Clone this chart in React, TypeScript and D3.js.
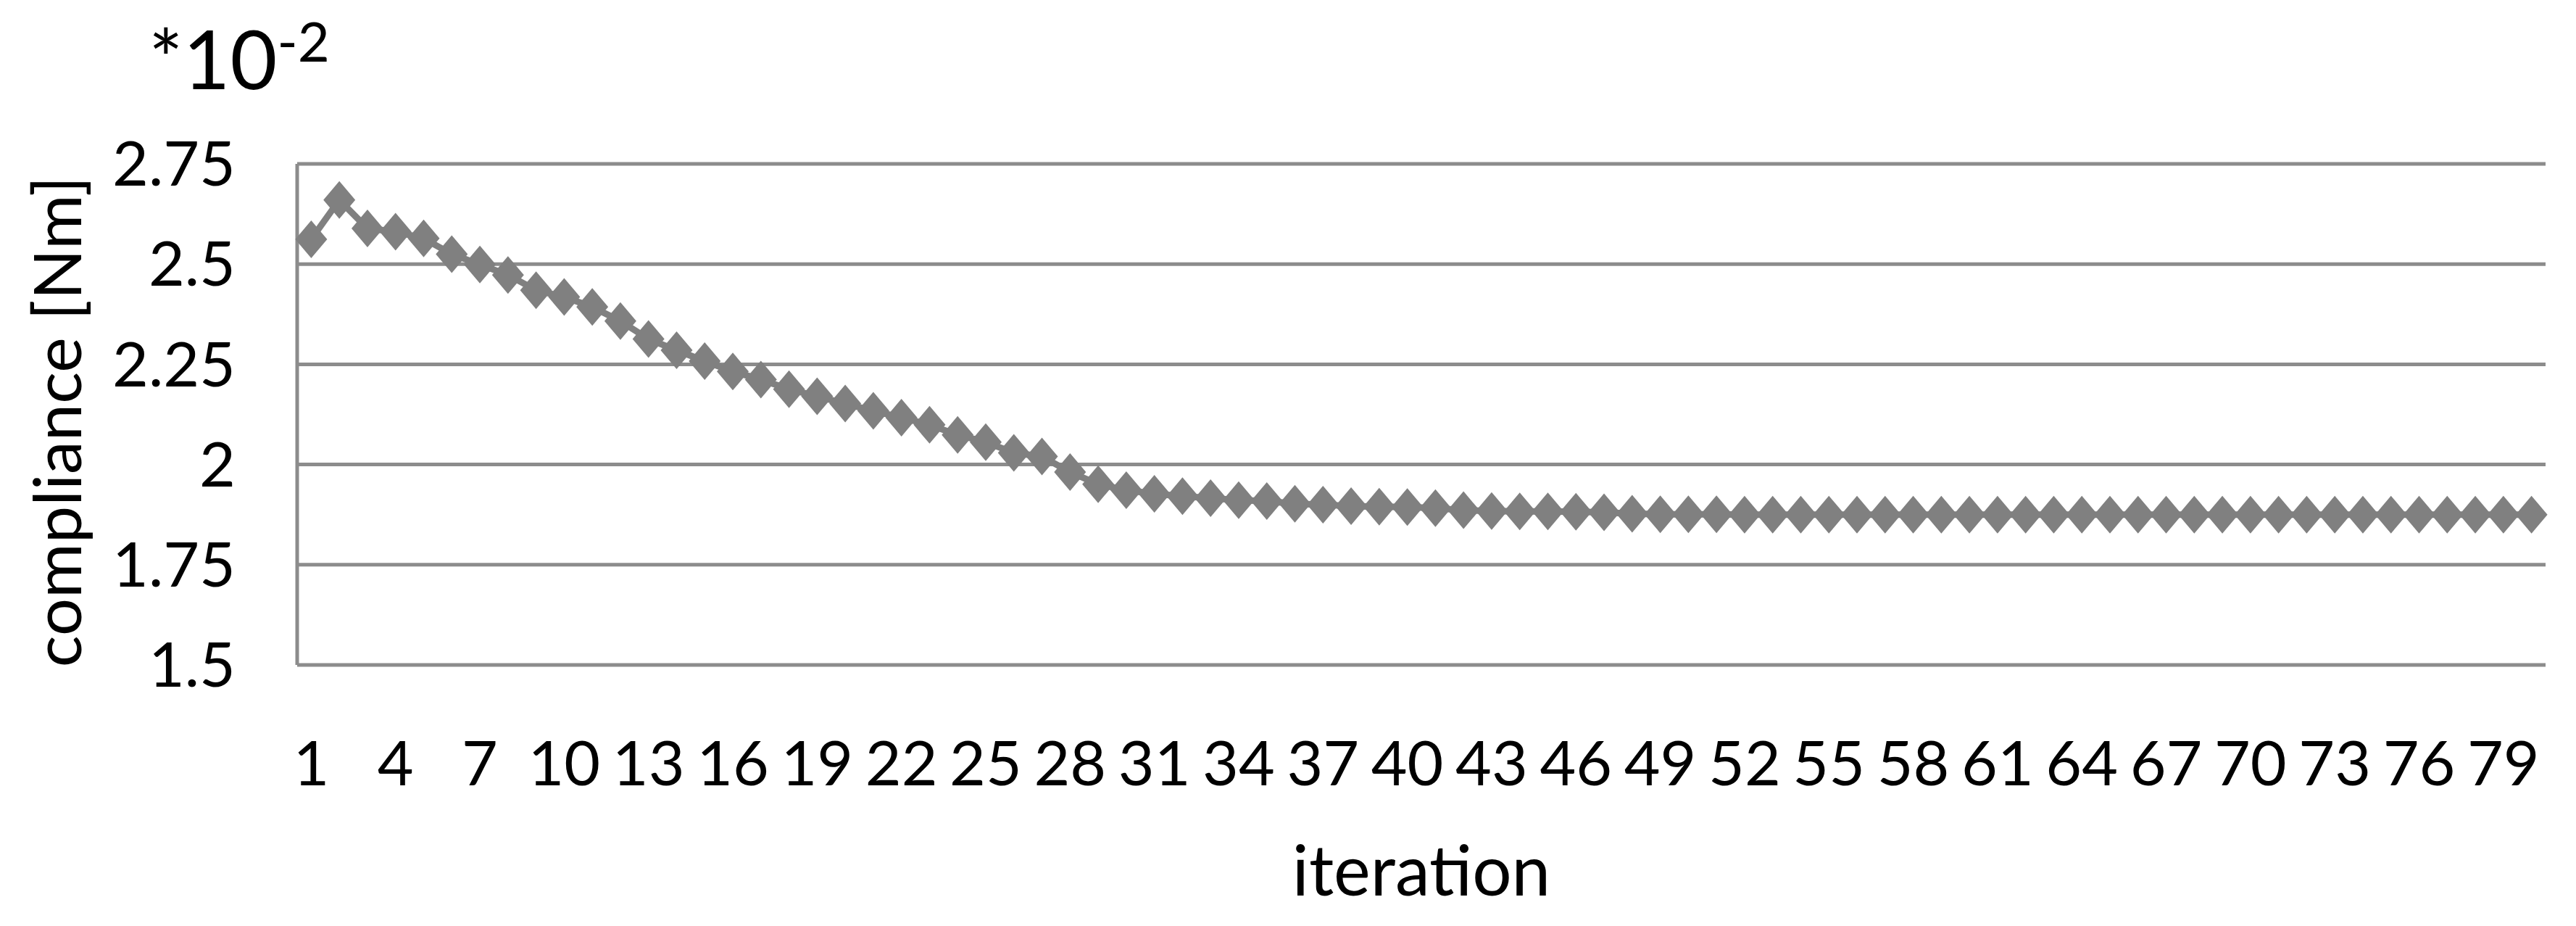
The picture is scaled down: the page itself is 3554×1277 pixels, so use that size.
import React from "react";
import * as d3 from "d3";

// compliance values, unit 1e-2 Nm, one per iteration
const compliance = [
  2.562, 2.660, 2.589, 2.581, 2.564, 2.525, 2.499, 2.473, 2.435, 2.418,
  2.393, 2.358, 2.313, 2.285, 2.258, 2.232, 2.212, 2.188, 2.170, 2.152,
  2.134, 2.117, 2.099, 2.074, 2.056, 2.029, 2.020, 1.981, 1.951, 1.936,
  1.927, 1.921, 1.916, 1.911, 1.909, 1.902, 1.900, 1.896, 1.895, 1.894,
  1.891, 1.886, 1.884, 1.883, 1.883, 1.882, 1.881, 1.877, 1.876, 1.876,
  1.876, 1.875, 1.875, 1.875, 1.875, 1.875, 1.875, 1.875, 1.875, 1.875,
  1.875, 1.875, 1.875, 1.875, 1.875, 1.875, 1.875, 1.875, 1.875, 1.875,
  1.875, 1.875, 1.875, 1.875, 1.875, 1.875, 1.875, 1.875, 1.875, 1.875,
];
const iterations = compliance.map((_, i) => i + 1);
const yTicks = [1.5, 1.75, 2, 2.25, 2.5, 2.75];
const xTickLabels = iterations.filter((d) => (d - 1) % 3 === 0);

const width = 3554;
const height = 1277;
const margin = { top: 226, right: 42, bottom: 360, left: 410 };
const font = "Lato, 'Open Sans', sans-serif";
const grey = "#808080";

export default function App() {
  const x = d3
    .scaleBand<number>()
    .domain(iterations)
    .range([margin.left, width - margin.right]);
  const y = d3
    .scaleLinear()
    .domain([1.5, 2.75])
    .range([height - margin.bottom, margin.top]);

  const cx = (d: number) => (x(d) as number) + x.bandwidth() / 2;
  const line = d3
    .line<number>()
    .x((_, i) => cx(iterations[i]))
    .y((d) => y(d));

  const diamond = "M0,-26L22,0L0,26L-22,0Z";

  return (
    <svg
      width={width}
      height={height}
      style={{ position: "absolute", left: 0, top: 0, background: "#fff" }}
      fontFamily={font}
    >
      {/* grid lines */}
      {yTicks.map((t) => (
        <line
          key={t}
          x1={margin.left}
          x2={width - margin.right}
          y1={y(t)}
          y2={y(t)}
          stroke="#8c8c8c"
          strokeWidth={5}
        />
      ))}
      <line
        x1={margin.left}
        x2={margin.left}
        y1={y(2.75)}
        y2={y(1.5)}
        stroke="#8c8c8c"
        strokeWidth={5}
      />

      {/* y tick labels */}
      {yTicks.map((t) => (
        <text
          key={t}
          x={325}
          y={y(t)}
          dy="0.35em"
          textAnchor="end"
          fontSize={86}
          fill="#000"
        >
          {String(t)}
        </text>
      ))}

      {/* x tick labels */}
      {xTickLabels.map((d) => (
        <text
          key={d}
          x={cx(d)}
          y={1083}
          textAnchor="middle"
          fontSize={86}
          fill="#000"
        >
          {d}
        </text>
      ))}

      {/* series */}
      <path
        d={line(compliance) || ""}
        fill="none"
        stroke={grey}
        strokeWidth={9}
        strokeLinejoin="round"
      />
      {compliance.map((v, i) => (
        <path
          key={i}
          d={diamond}
          transform={`translate(${cx(iterations[i])},${y(v)})`}
          fill={grey}
        />
      ))}

      {/* axis titles */}
      <text
        transform={`translate(112,${(y(2.75) + y(1.5)) / 2 + 10}) rotate(-90)`}
        textAnchor="middle"
        fontSize={92}
        fill="#000"
      >
        compliance [Nm]
      </text>
      <text
        x={(margin.left + width - margin.right) / 2}
        y={1235}
        textAnchor="middle"
        fontSize={96}
        fill="#000"
      >
        iteration
      </text>

      {/* scale factor */}
      <text x={205} y={123} fontSize={112} fill="#000">
        *10
        <tspan fontSize={76} dy={-38}>
          -2
        </tspan>
      </text>
    </svg>
  );
}
